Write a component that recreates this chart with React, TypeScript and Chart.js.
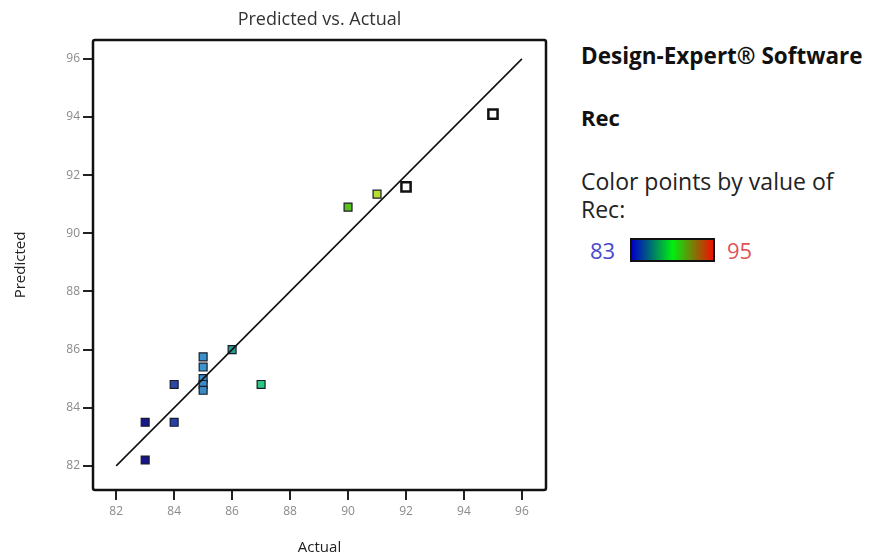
import React, { useEffect, useRef } from "react";
import { Chart, registerables } from "chart.js";

Chart.register(...registerables);

// ---- data ----
const actual = [83, 83, 84, 84, 85, 85, 85, 85, 85, 86, 87, 90, 91, 92, 95];
const predicted = [82.2, 83.5, 83.5, 84.8, 85.75, 85.4, 85.0, 84.8, 84.6, 86.0, 84.8, 90.9, 91.35, 91.6, 94.1];
const pointColors = [
  "#14168a", "#16198e", "#2640a6", "#2a48a8", "#3a92cc", "#3a96cc", "#3a8ec8", "#3a8ac6", "#3a8ac6",
  "#22a08e", "#2cc882", "#5ac21e", "#b4df32", "#ffffff", "#ffffff",
];
const fitLineX = [82, 96];
const fitLineY = [82, 96];
const xTicks = [82, 84, 86, 88, 90, 92, 94, 96];
const yTicks = [82, 84, 86, 88, 90, 92, 94, 96];
const colorMin = 83;
const colorMax = 95;

const FONT = "'Open Sans', 'DejaVu Sans', sans-serif";

const frameAndTitle = {
  id: "frameAndTitle",
  afterDraw(chart: any) {
    const { ctx, chartArea } = chart;
    const { left, top, right, bottom } = chartArea;
    ctx.save();
    ctx.strokeStyle = "#111";
    ctx.lineWidth = 2.5;
    ctx.beginPath();
    if (ctx.roundRect) ctx.roundRect(left, top, right - left, bottom - top, 2);
    else ctx.rect(left, top, right - left, bottom - top);
    ctx.stroke();
    ctx.fillStyle = "#333";
    ctx.font = `18px ${FONT}`;
    ctx.textAlign = "center";
    ctx.textBaseline = "middle";
    ctx.fillText("Predicted vs. Actual", (left + right) / 2, 20);
    ctx.restore();
  },
};

export default function App() {
  const canvasRef = useRef<HTMLCanvasElement | null>(null);

  useEffect(() => {
    if (!canvasRef.current) return;
    const isWhite = (c: string) => c === "#ffffff";
    const chart = new Chart(canvasRef.current, {
      type: "scatter",
      data: {
        datasets: [
          {
            type: "line",
            label: "fit",
            data: fitLineX.map((x, i) => ({ x, y: fitLineY[i] })),
            borderColor: "#111",
            borderWidth: 1.6,
            pointRadius: 0,
            fill: false,
          } as any,
          {
            label: "Rec",
            data: actual.map((x, i) => ({ x, y: predicted[i] })),
            pointStyle: "rect",
            backgroundColor: pointColors,
            borderColor: pointColors.map((c) => (isWhite(c) ? "#111" : "#1a1a2a")),
            borderWidth: pointColors.map((c) => (isWhite(c) ? 2.5 : 1.2)),
            pointRadius: pointColors.map((c) => (isWhite(c) ? 6.5 : 5.6)),
          } as any,
        ],
      },
      options: {
        animation: false,
        responsive: false,
        layout: { padding: { top: 40, right: 14, left: 0, bottom: 0 } },
        plugins: {
          legend: { display: false },
          tooltip: { enabled: false },
          title: { display: false },
        },
        scales: {
          x: {
            type: "linear",
            min: 81.2,
            max: 96.83,
            afterBuildTicks: (s: any) => {
              s.ticks = xTicks.map((v) => ({ value: v }));
            },
            afterFit: (s: any) => {
              s.height = 70;
            },
            grid: { drawOnChartArea: false, drawTicks: true, tickLength: 10, color: "#222", lineWidth: 2 },
            border: { display: false },
            ticks: { color: "#8a8a8a", font: { size: 12, family: FONT }, padding: 4, maxRotation: 0 },
            title: { display: true, text: "Actual", color: "#222", font: { size: 15, family: FONT }, padding: { top: 0, bottom: 3 } },
          },
          y: {
            type: "linear",
            min: 81.17,
            max: 96.65,
            afterBuildTicks: (s: any) => {
              s.ticks = yTicks.map((v) => ({ value: v }));
            },
            afterFit: (s: any) => {
              s.width = 93;
            },
            grid: { drawOnChartArea: false, drawTicks: true, tickLength: 10, color: "#222", lineWidth: 2 },
            border: { display: false },
            ticks: { color: "#8a8a8a", font: { size: 12, family: FONT }, padding: 3 },
            title: { display: true, text: "Predicted", color: "#222", font: { size: 15, family: FONT }, padding: { top: 12, bottom: 0 } },
          },
        },
      },
      plugins: [frameAndTitle],
    } as any);
    return () => chart.destroy();
  }, []);

  const textBase: React.CSSProperties = {
    position: "absolute",
    fontFamily: FONT,
    whiteSpace: "nowrap",
    lineHeight: "1",
  };

  return (
    <div style={{ position: "absolute", left: 0, top: 0, width: 870, height: 560, background: "#fff" }}>
      <canvas ref={canvasRef} width={560} height={560} style={{ position: "absolute", left: 0, top: 0 }} />
      <div style={{ ...textBase, left: 581, top: 45, fontSize: 22.5, fontWeight: 700, color: "#111" }}>
        Design-Expert® Software
      </div>
      <div style={{ ...textBase, left: 581, top: 106, fontSize: 22, fontWeight: 700, color: "#111" }}>Rec</div>
      <div style={{ ...textBase, left: 581, top: 170, fontSize: 23, color: "#222" }}>Color points by value of</div>
      <div style={{ ...textBase, left: 581, top: 198, fontSize: 23, color: "#222" }}>Rec:</div>
      <div style={{ ...textBase, left: 590, top: 239, fontSize: 22, color: "#4848cc" }}>{colorMin}</div>
      <div
        style={{
          position: "absolute",
          left: 630,
          top: 238,
          width: 85,
          height: 24,
          boxSizing: "border-box",
          border: "2px solid #111",
          background: "linear-gradient(to right, #0000c8, #00ee10, #f01000)",
        }}
      />
      <div style={{ ...textBase, left: 727, top: 239, fontSize: 22, color: "#e05555" }}>{colorMax}</div>
    </div>
  );
}
